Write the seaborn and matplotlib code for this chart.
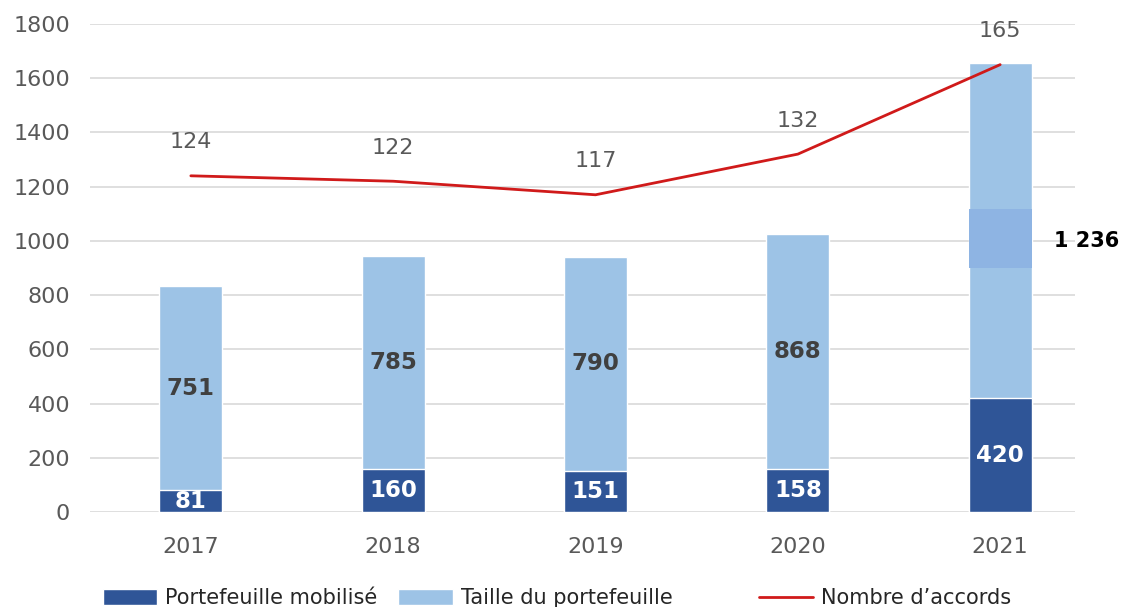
import numpy as np
import pandas as pd
import matplotlib
matplotlib.use("Agg")
import matplotlib.pyplot as plt
import seaborn as sns
from matplotlib.patches import Rectangle
from matplotlib.lines import Line2D

annees = ["2017", "2018", "2019", "2020", "2021"]
mobilise = [81, 160, 151, 158, 420]
taille = [751, 785, 790, 868, 1236]
accords = [124, 122, 117, 132, 165]

dark = "#2F5597"
light = "#9DC3E6"
red = "#D01A1A"
grey_txt = "#595959"

df = pd.DataFrame({"annee": annees, "mobilise": mobilise, "taille": taille, "accords": accords})
df["total"] = df["mobilise"] + df["taille"]

sns.set_style("white")
plt.rcParams["font.family"] = ["DejaVu Sans"]

fig = plt.figure(figsize=(11.21, 6.07), dpi=100)
ax = fig.add_axes([0.080, 0.1565, 0.879, 0.804])

sns.barplot(data=df, x="annee", y="total", color=light, width=0.31, saturation=1, ax=ax, zorder=2)
sns.barplot(data=df, x="annee", y="mobilise", color=dark, width=0.31, saturation=1, ax=ax, zorder=3)

ax.set_ylim(0, 1800)
ax.set_xlim(-0.5, 4.37)
ax.set_yticks(range(0, 1801, 200))
ax.yaxis.grid(True, color="#D9D9D9", linewidth=1.2, zorder=0)
ax.set_axisbelow(True)
for s in ax.spines.values():
    s.set_visible(False)
ax.set_xlabel("")
ax.set_ylabel("")
ax.tick_params(axis="both", length=0, labelsize=16, labelcolor=grey_txt)
ax.tick_params(axis="x", pad=18)
ax.tick_params(axis="y", pad=14)

light_bars = ax.containers[0]
dark_bars = ax.containers[1]

# labels: the light segment shows the taille value, centred on the light part
for rect, t, m in zip(light_bars, taille, mobilise):
    if rect.get_x() > 3.5:
        continue
    cx = rect.get_x() + rect.get_width() / 2
    ax.text(cx, m + t / 2, str(t), ha="center", va="center",
            fontsize=16.5, fontweight="bold", color="#404040", zorder=5)
ax.bar_label(dark_bars, labels=[str(v) for v in mobilise], label_type="center",
             fontsize=16.5, fontweight="bold", color="white", zorder=5)

# 2021: highlighted band in the light segment, label outside on the right
r = light_bars[4]
mid = mobilise[4] + taille[4] / 2
ax.add_patch(Rectangle((r.get_x(), mid - 137), r.get_width(), 215,
                       facecolor="#8EB4E3", edgecolor="none", zorder=4))
ax.text(r.get_x() + r.get_width() + 0.11, mid - 38, "1 236", ha="left", va="center",
        fontsize=15, fontweight="bold", color="black", clip_on=False)

ax2 = ax.twinx()
ax2.set_ylim(0, 180)
sns.lineplot(x=np.arange(len(annees)), y=accords, color=red, linewidth=2, ax=ax2)
ax2.set_axis_off()
for i, v in enumerate(accords):
    ax2.annotate(str(v), (i, v), xytext=(0, 24), textcoords="offset points",
                 ha="center", va="center", fontsize=16, color=grey_txt)
ax2.set_xlim(ax.get_xlim())

leg_font = {"family": ["DejaVu Sans"], "size": 15}
h_bars = [Rectangle((0, 0), 1, 1, facecolor=dark),
          Rectangle((0, 0), 1, 1, facecolor=light)]
leg1 = fig.legend(h_bars, ["Portefeuille mobilisé", "Taille du portefeuille"],
                  loc="lower left", bbox_to_anchor=(0.075, -0.033), ncol=2, frameon=False,
                  handlelength=2.6, handleheight=0.8, handletextpad=0.4, columnspacing=1.0,
                  prop=leg_font)
leg2 = fig.legend([Line2D([0], [0], color=red, linewidth=2)], ["Nombre d’accords"],
                  loc="lower left", bbox_to_anchor=(0.66, -0.033), frameon=False,
                  handlelength=2.6, handletextpad=0.4, prop=leg_font)
for leg in (leg1, leg2):
    for t in leg.get_texts():
        t.set_color("#262626")

fig.savefig("out.png", dpi=100)
